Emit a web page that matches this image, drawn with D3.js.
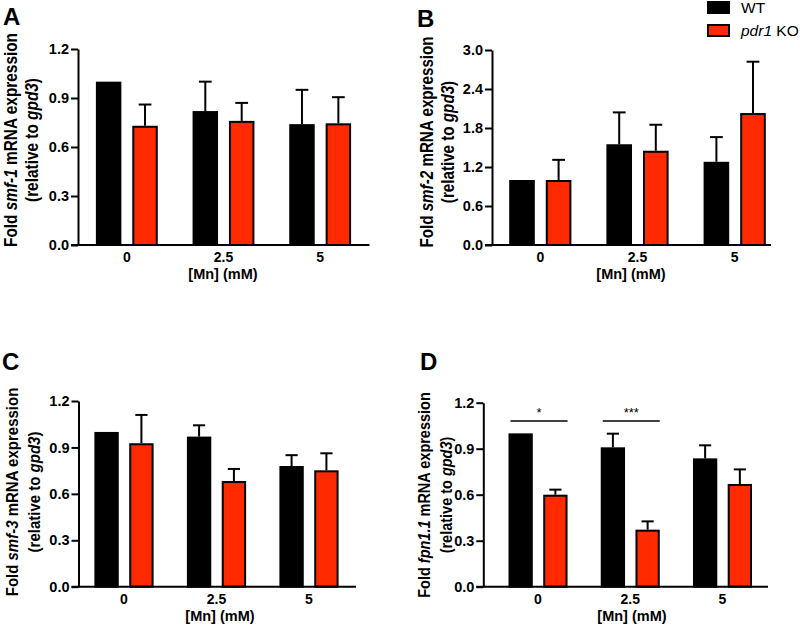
<!DOCTYPE html>
<html>
<head>
<meta charset="utf-8">
<script src="https://cdn.jsdelivr.net/npm/d3@7"></script>
<style>
  body { margin: 0; background: #fff; }
  svg { display: block; }
  text { font-family: "Liberation Sans", Arial, sans-serif; fill: #000; }
</style>
</head>
<body>
<svg id="chart" width="800" height="626"></svg>
<script>
// categories
const doses = ["0", "2.5", "5"];
const genotypes = ["WT", "pdr1 KO"];

// smf-1 (panel A)
const smf1WT = [1.0, 0.82, 0.74];
const smf1WTErr = [0, 0.18, 0.21];
const smf1KO = [0.73, 0.76, 0.745];
const smf1KOErr = [0.13, 0.11, 0.16];

// smf-2 (panel B)
const smf2WT = [1.0, 1.55, 1.28];
const smf2WTErr = [0, 0.49, 0.38];
const smf2KO = [1.0, 1.45, 2.03];
const smf2KOErr = [0.31, 0.40, 0.79];

// smf-3 (panel C)
const smf3WT = [1.0, 0.97, 0.78];
const smf3WTErr = [0, 0.073, 0.07];
const smf3KO = [0.927, 0.683, 0.752];
const smf3KOErr = [0.183, 0.078, 0.11];

// fpn1.1 (panel D)
const fpnWT = [1.0, 0.909, 0.837];
const fpnWTErr = [0, 0.089, 0.085];
const fpnKO = [0.60, 0.372, 0.67];
const fpnKOErr = [0.033, 0.054, 0.095];

// y tick labels
const ticksSmall = [0.0, 0.3, 0.6, 0.9, 1.2];
const ticksSmf2 = [0.0, 0.6, 1.2, 1.8, 2.4, 3.0];

// significance marks on panel D
const fpnSig = [{ dose: "0", label: "*" }, { dose: "2.5", label: "***" }];
const sigLevel = 1.08;

const colors = { "WT": "#000000", "pdr1 KO": "#ff2a00" };
const FONT_TICK = 14;

const svg = d3.select("#chart");

function drawPanel(p) {
    const yMax = d3.max(p.ticks);
    const y = d3.scaleLinear().domain([0, yMax]).range([p.bottom, p.top]);
    const x0 = d3.scaleBand().domain(doses).range([p.bandL, p.bandR])
        .paddingInner(0.36).paddingOuter(0.18);
    const x1 = d3.scaleBand().domain(genotypes).range([0, x0.bandwidth()])
        .paddingInner(0.3);

    const g = svg.append("g");

    // panel letter
    g.append("text")
        .attr("x", p.letterX).attr("y", p.letterY)
        .style("font-size", "24px").style("font-weight", "bold")
        .text(p.letter);

    // flatten values into one row per bar
    const rows = [];
    doses.forEach((d, i) => {
        genotypes.forEach((gt, j) => {
            rows.push({ dose: d, gt: gt, mean: p.means[j][i], err: p.errs[j][i] });
        });
    });

    const bw = x1.bandwidth();

    // bars
    g.selectAll("rect.bar").data(rows).join("rect")
        .attr("class", "bar")
        .attr("x", d => x0(d.dose) + x1(d.gt) + 1)
        .attr("y", d => y(d.mean) + 1)
        .attr("width", bw - 2)
        .attr("height", d => y(0) - y(d.mean) - 1)
        .attr("fill", d => colors[d.gt])
        .attr("stroke", "#000")
        .attr("stroke-width", 2);

    // upper error bars with a cap of half the bar width
    const eb = rows.filter(d => d.err > 0);
    const cx = d => x0(d.dose) + x1(d.gt) + bw / 2;
    g.selectAll("line.err").data(eb).join("line")
        .attr("class", "err")
        .attr("x1", cx).attr("x2", cx)
        .attr("y1", d => y(d.mean)).attr("y2", d => y(d.mean + d.err))
        .attr("stroke", "#000").attr("stroke-width", 2);
    g.selectAll("line.cap").data(eb).join("line")
        .attr("class", "cap")
        .attr("x1", d => cx(d) - bw / 4).attr("x2", d => cx(d) + bw / 4)
        .attr("y1", d => y(d.mean + d.err)).attr("y2", d => y(d.mean + d.err))
        .attr("stroke", "#000").attr("stroke-width", 2);

    // y axis
    const yAxis = d3.axisLeft(y)
        .tickValues(p.ticks)
        .tickFormat(d3.format(".1f"))
        .tickSize(7).tickSizeOuter(0).tickPadding(2);
    const ya = g.append("g")
        .attr("transform", `translate(${p.axisX},0)`)
        .call(yAxis);
    ya.select(".domain").attr("stroke-width", 2);
    ya.selectAll(".tick line").attr("stroke-width", 2);
    ya.selectAll(".tick text")
        .style("font-size", "14.5px").style("font-weight", "bold")
        .attr("fill", "#000");

    // x axis: plain line, no ticks
    g.append("line")
        .attr("x1", p.axisX - 7).attr("x2", p.axisEnd)
        .attr("y1", y(0)).attr("y2", y(0))
        .attr("stroke", "#000").attr("stroke-width", 2);
    g.selectAll("text.xtick").data(doses).join("text")
        .attr("class", "xtick")
        .attr("x", d => x0(d) + x0.bandwidth() / 2)
        .attr("y", y(0) + 17)
        .attr("text-anchor", "middle")
        .style("font-size", FONT_TICK + "px").style("font-weight", "bold")
        .text(d => d);

    g.append("text")
        .attr("x", p.xTitleX).attr("y", y(0) + 34)
        .attr("text-anchor", "middle")
        .style("font-size", "14.5px").style("font-weight", "bold")
        .text("[Mn] (mM)");

    // y title, two lines, gene names in italics; glyphs a bit wider than tall
    const t1 = g.append("text")
        .attr("transform", `translate(${p.titleX1},${p.titleY}) scale(1.15,1) rotate(-90)`)
        .attr("dy", "0.35em")
        .attr("text-anchor", "middle")
        .style("font-size", p.titleSize + "px").style("font-weight", "bold");
    t1.append("tspan").text("Fold ");
    t1.append("tspan").style("font-style", "italic").text(p.gene);
    t1.append("tspan").text(" mRNA expression");

    const t2 = g.append("text")
        .attr("transform", `translate(${p.titleX2},${p.titleY}) scale(1.15,1) rotate(-90)`)
        .attr("dy", "0.35em")
        .attr("text-anchor", "middle")
        .style("font-size", p.titleSize + "px").style("font-weight", "bold");
    t2.append("tspan").text("(relative to ");
    t2.append("tspan").style("font-style", "italic").text("gpd3");
    t2.append("tspan").text(")");

    // significance brackets
    if (p.sig) {
        p.sig.forEach(s => {
            const xa = x0(s.dose) + 2;
            const xb = x0(s.dose) + x0.bandwidth();
            g.append("line")
                .attr("x1", xa).attr("x2", xb)
                .attr("y1", y(sigLevel)).attr("y2", y(sigLevel))
                .attr("stroke", "#000").attr("stroke-width", 1.5);
            g.append("text")
                .attr("x", (xa + xb) / 2).attr("y", y(sigLevel) - 4)
                .attr("text-anchor", "middle")
                .style("font-size", "13px")
                .text(s.label);
        });
    }
}

drawPanel({
    letter: "A", letterX: 3, letterY: 25,
    gene: "smf-1", means: [smf1WT, smf1KO], errs: [smf1WTErr, smf1KOErr],
    ticks: ticksSmall, top: 49, bottom: 245,
    axisX: 78, axisEnd: 369.5, bandL: 78.5, bandR: 368.5,
    xTitleX: 223, titleX1: 11, titleX2: 32, titleY: 140, titleSize: 15.4
});
drawPanel({
    letter: "B", letterX: 417, letterY: 27,
    gene: "smf-2", means: [smf2WT, smf2KO], errs: [smf2WTErr, smf2KOErr],
    ticks: ticksSmf2, top: 50, bottom: 245,
    axisX: 492, axisEnd: 771, bandL: 491.7, bandR: 783.3,
    xTitleX: 631, titleX1: 427, titleX2: 448, titleY: 142, titleSize: 15.2
});
drawPanel({
    letter: "C", letterX: 2, letterY: 370,
    gene: "smf-3", means: [smf3WT, smf3KO], errs: [smf3WTErr, smf3KOErr],
    ticks: ticksSmall, top: 401, bottom: 586.7,
    axisX: 78.5, axisEnd: 356, bandL: 77.75, bandR: 355.25,
    xTitleX: 220, titleX1: 12, titleX2: 34, titleY: 492, titleSize: 15
});
drawPanel({
    letter: "D", letterX: 420, letterY: 370,
    gene: "fpn1.1", means: [fpnWT, fpnKO], errs: [fpnWTErr, fpnKOErr],
    ticks: ticksSmall, top: 402.7, bottom: 586.7,
    axisX: 483.3, axisEnd: 768, bandL: 491.9, bandR: 768.6,
    xTitleX: 632, titleX1: 424, titleX2: 446, titleY: 495, titleSize: 14.5,
    sig: fpnSig
});

// legend
const legend = svg.append("g").attr("transform", "translate(707,0)");
genotypes.forEach((gt, i) => {
    legend.append("rect")
        .attr("x", 1).attr("y", 2 + i * 23)
        .attr("width", 21).attr("height", 11)
        .attr("fill", colors[gt])
        .attr("stroke", "#000").attr("stroke-width", 2);
    const t = legend.append("text")
        .attr("x", 34).attr("y", 13 + i * 23)
        .style("font-size", "15.5px");
    if (gt === "pdr1 KO") {
        t.append("tspan").style("font-style", "italic").text("pdr1");
        t.append("tspan").text(" KO");
    } else {
        t.text(gt);
    }
});
</script>
</body>
</html>
